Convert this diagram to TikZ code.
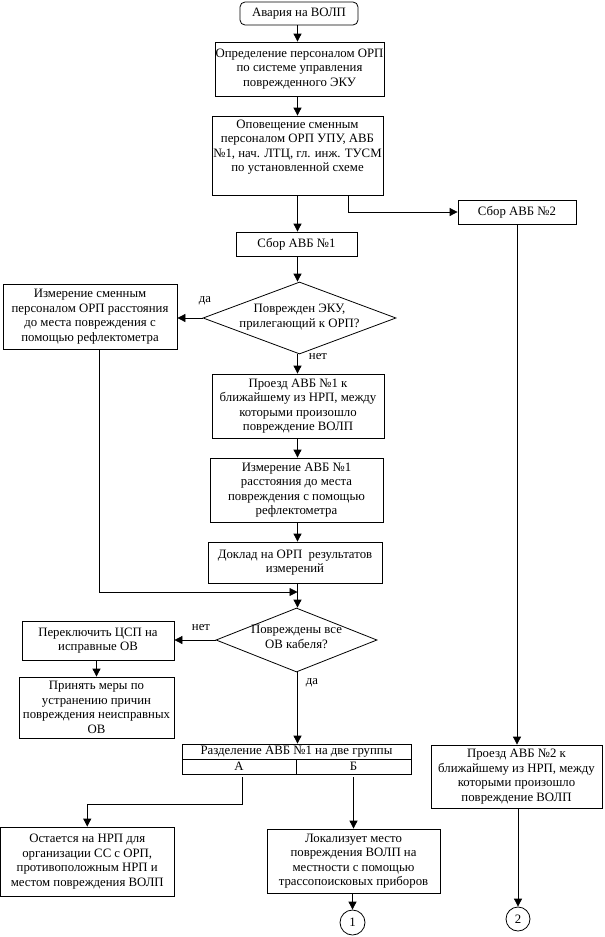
\documentclass[tikz,border=0pt]{standalone}
\usepackage{fontspec}
\setmainfont{Liberation Serif}
\usetikzlibrary{arrows.meta,shapes.geometric}
\begin{document}
\begin{tikzpicture}[x=1pt,y=-1pt,
  every node/.style={font=\fontsize{12.8}{14.5}\selectfont},
  box/.style={draw, line width=0.8pt, align=center, inner sep=0pt},
  dia/.style={draw, diamond, line width=0.8pt, inner sep=0pt},
  txt/.style={align=center, inner sep=1pt},
  arr/.style={line width=0.8pt, -{Triangle[length=8pt,width=8pt]}},
  ln/.style={line width=0.8pt},
  lbl/.style={inner sep=0pt}]
\useasboundingbox (0,0) rectangle (605,937);

% axis coordinates
\coordinate (ax) at (297.5,0);
\coordinate (rb) at (348,0);
\coordinate (lx) at (99,0);
\coordinate (mrg) at (297.5,592);
\coordinate (ay) at (0,804);

% main column
\node[box, minimum width=118pt, minimum height=23pt, rounded corners=5pt] (start) at (299,13.5) {Авария на ВОЛП};
\node[box, minimum width=169pt, minimum height=54pt] (def) at (299.5,69) {Определение персоналом ОРП\\по системе управления\\поврежденного ЭКУ};
\node[box, minimum width=171pt, minimum height=79pt] (opov) at (297.5,155.5) {};
\node[txt, anchor=north] (opovt) at ([yshift=-3pt]opov.north) {Оповещение сменным\\персоналом ОРП УПУ, АВБ\\№1, нач. ЛТЦ, гл. инж. ТУСМ\\по установленной схеме};
\node[box, minimum width=118pt, minimum height=24pt] (sbor2) at (517,212) {Сбор АВБ №2};
\node[box, minimum width=121pt, minimum height=24pt] (sbor1) at (296.5,244) {Сбор АВБ №1};
\node[dia, minimum width=193pt, minimum height=72pt] (d1) at (299.5,318) {};
\node[txt] (d1t) at ([yshift=1pt]d1.center) {Поврежден ЭКУ,\\прилегающий к ОРП?};
\node[box, minimum width=174pt, minimum height=65pt] (izmL) at (90,316.5) {Измерение сменным\\персоналом ОРП расстояния\\до места повреждения с\\помощью рефлектометра};
\node[box, minimum width=172pt, minimum height=64pt] (proezd1) at (298,406) {Проезд АВБ №1 к\\ближайшему из НРП, между\\которыми произошло\\повреждение ВОЛП};
\node[box, minimum width=173pt, minimum height=64pt] (izm1) at (296.5,490) {Измерение АВБ №1\\расстояния до места\\повреждения с помощью\\рефлектометра};
\node[box, minimum width=174pt, minimum height=41pt] (doklad) at (295,562.5) {Доклад на ОРП\ \ результатов\\измерений};
\node[dia, minimum width=161pt, minimum height=64pt] (d2) at (296.5,640) {};
\node[txt] (d2t) at ([yshift=3pt]d2.center) {Повреждены все\\ОВ кабеля?};
\node[box, minimum width=152pt, minimum height=39pt] (perekl) at (98,640.5) {Переключить ЦСП на\\исправные ОВ};
\node[box, minimum width=155pt, minimum height=61pt] (prin) at (96.5,707.5) {Принять меры по\\устранению причин\\повреждения неисправных\\ОВ};

% table
\node[box, minimum width=229pt, minimum height=15pt] (tab) at (296.5,751.5) {Разделение АВБ №1 на две группы};
\node[box, minimum width=114pt, minimum height=15pt] (ga) at (239,766.5) {А};
\node[box, minimum width=115pt, minimum height=15pt] (gb) at (353.5,766.5) {Б};

\node[box, minimum width=171pt, minimum height=63pt] (proezd2) at (516.5,776.5) {Проезд АВБ №2 к\\ближайшему из НРП, между\\которыми произошло\\повреждение ВОЛП};
\node[box, minimum width=173.5pt, minimum height=69pt] (ost) at (87.25,861.5) {Остается на НРП для\\организации СС с ОРП,\\противоположным НРП и\\местом повреждения ВОЛП};
\node[box, minimum width=173pt, minimum height=64pt] (lok) at (353.5,861) {Локализует место\\повреждения ВОЛП на\\местности с помощью\\трассопоисковых приборов};
\node[draw, circle, line width=0.8pt, minimum size=25pt, inner sep=0pt] (c1) at (352.5,922.5) {1};
\node[draw, circle, line width=0.8pt, minimum size=24pt, inner sep=0pt] (c2) at (518,919) {2};

% labels
\node[lbl] (l1) at (205,301) {да};
\node[lbl] (l2) at (318,357) {нет};
\node[lbl] (l3) at (201,628) {нет};
\node[lbl] (l4) at (312,683) {да};

% connectors
\draw[arr] (start.south -| ax) -- (def.north -| ax);
\draw[arr] (def.south -| ax) -- (opov.north -| ax);
\draw[arr] (opov.south -| ax) -- (sbor1.north -| ax);
\draw[arr] (opov.south -| rb) |- (sbor2.west);
\draw[arr] (sbor1.south -| ax) -- (d1.north -| ax);
\draw[arr] (d1.west) -- (d1.west -| izmL.east);
\draw[arr] (d1.south -| ax) -- (proezd1.north -| ax);
\draw[arr] (proezd1.south -| ax) -- (izm1.north -| ax);
\draw[arr] (izm1.south -| ax) -- (doklad.north -| ax);
\draw[ln] (doklad.south -| ax) -- (mrg);
\draw[arr] (izmL.south -| lx) |- (mrg);
\draw[arr] (mrg) -- (d2.north -| ax);
\draw[arr] (d2.west) -- (d2.west -| perekl.east);
\draw[arr] (perekl.south -| prin.north) -- (prin.north);
\draw[arr] (d2.south -| ax) -- (tab.north -| ax);
\draw[arr, shorten <=3pt] ([xshift=3pt]ga.south) -- ([xshift=3pt]ga.south |- ay) -| (ost.north);
\draw[arr, shorten <=3pt] (gb.south) -- (lok.north);
\draw[arr] (lok.south -| c1.north) -- (c1.north);
\draw[arr] (sbor2.south) -- (sbor2.south |- proezd2.north);
\draw[arr] (proezd2.south -| c2.north) -- (c2.north);
\end{tikzpicture}
\end{document}
